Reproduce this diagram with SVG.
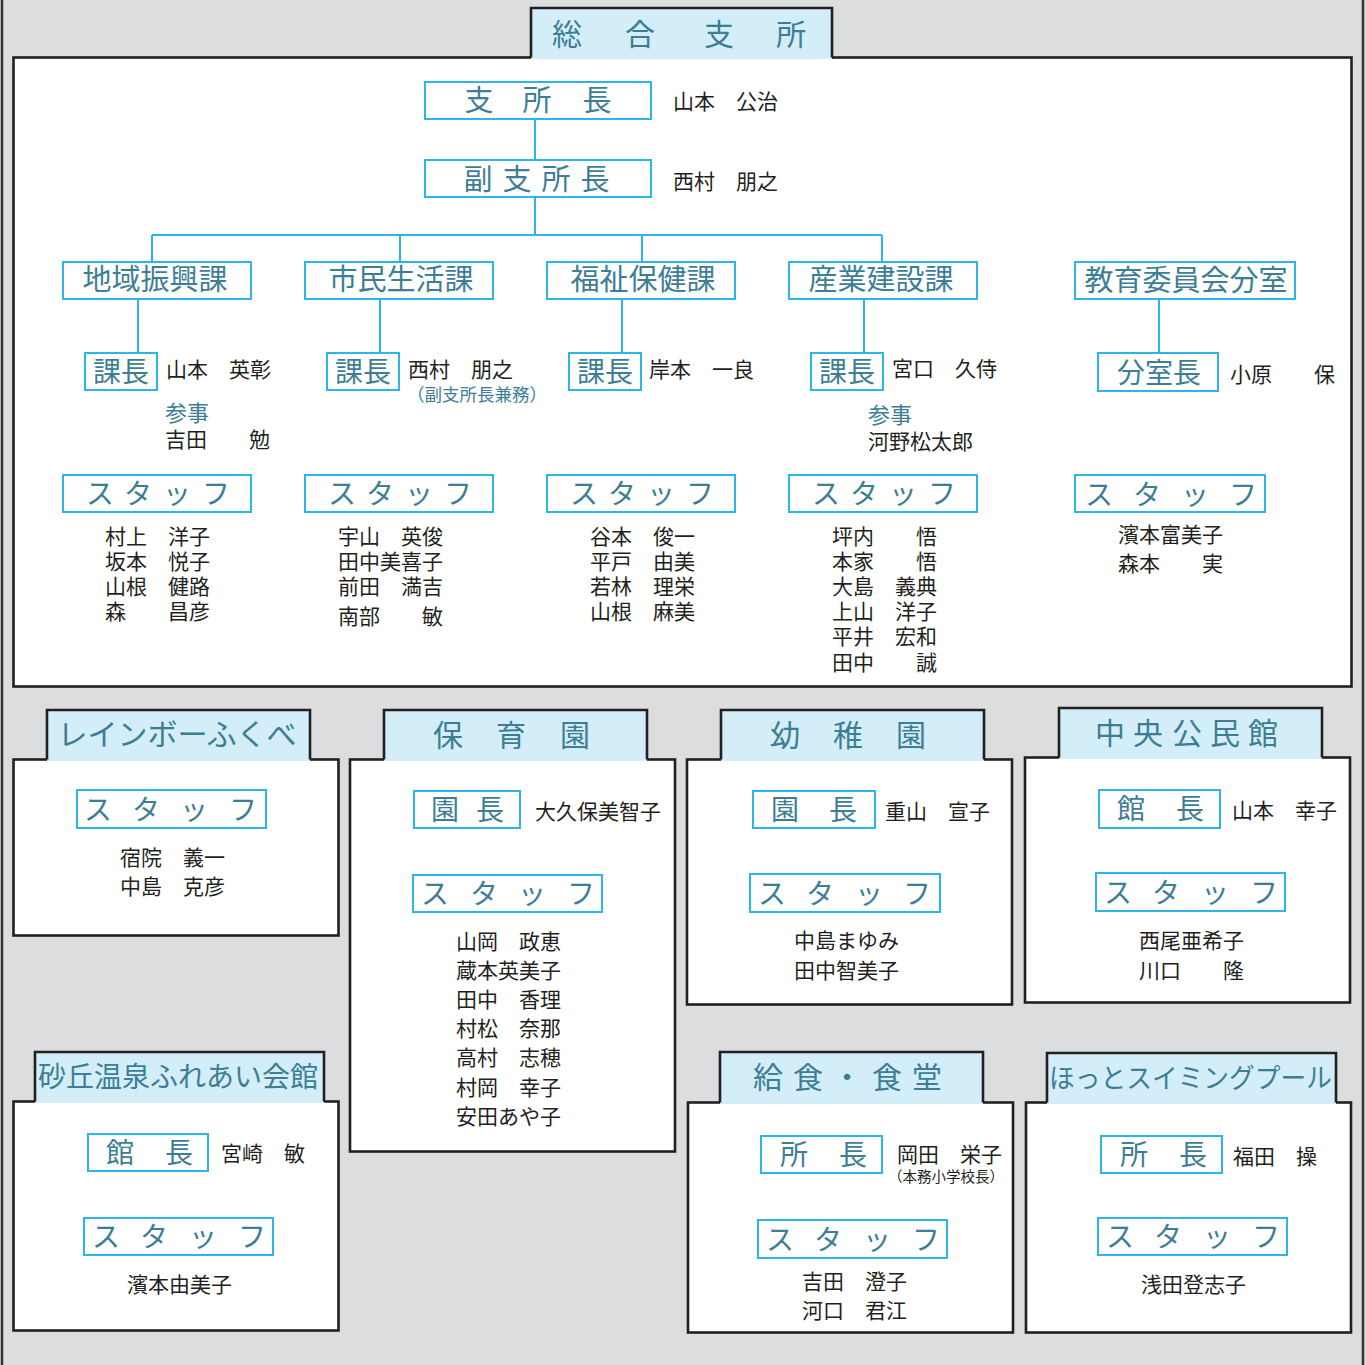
<svg xmlns="http://www.w3.org/2000/svg" width="1366" height="1365" viewBox="0 0 1366 1365">
<style>
.bg{fill:#dcdddf}
.frame{stroke:#333;stroke-width:2.5}
.panel{fill:#fff;stroke:#231f20;stroke-width:2.6}
.tabf{fill:#d3eef9}
.tabl{fill:none;stroke:#231f20;stroke-width:2.6}
.box{fill:#fff;stroke:#2cb5e9;stroke-width:2}
.con{fill:none;stroke:#2cb5e9;stroke-width:2}
text{font-family:"Noto Sans CJK JP","Noto Sans",sans-serif}
.h{fill:#3d7e94;font-size:29px}
.t{fill:#3d7e94;font-size:30px}
.lb{fill:#3d7e94;font-size:28px}
.s{fill:#3d7e94;font-size:22px}
.n{fill:#231f20;font-size:21px}
</style>
<rect class="bg" x="0" y="0" width="1366" height="1365"/>
<line class="frame" x1="2" y1="0" x2="2" y2="1365"/>
<line class="frame" x1="1363" y1="0" x2="1363" y2="1365"/>

<g id="main-panel">
<rect class="panel" x="13.5" y="57.5" width="1338" height="629"/>
<rect class="tabf" x="531" y="8" width="301" height="51"/>
<path class="tabl" d="M531,57.5 V8 H832 V57.5"/>
<text class="t" x="567 640 719 791" y="45" text-anchor="middle">総合支所</text>
</g>

<g id="connectors">
<path class="con" d="M535,119 V160 M535,197 V235 M152,235 H882 M152,235 V262 M400,235 V262 M642,235 V262 M882,235 V262"/>
<path class="con" d="M138,299 V353 M380,299 V353 M622,299 V353 M864,299 V353 M1159,299 V353"/>
</g>

<g id="shochou">
<rect class="box" x="425" y="82" width="226" height="37"/>
<text class="h" x="479 537 597" y="111" text-anchor="middle">支所長</text>
<text class="n" x="673" y="109">山本　公治</text>
</g>
<g id="fukushochou">
<rect class="box" x="425" y="160" width="226" height="37"/>
<text class="h" x="478 517 556 595" y="190" text-anchor="middle">副支所長</text>
<text class="n" x="673" y="189">西村　朋之</text>
</g>

<g id="chiiki">
<rect class="box" x="63" y="262" width="188" height="37"/>
<text class="h" x="155" y="290" text-anchor="middle">地域振興課</text>
<rect class="box" x="85" y="353" width="72" height="37"/>
<text class="lb" x="121" y="382" text-anchor="middle">課長</text>
<text class="n" x="166" y="377">山本　英彰</text>
<text class="s" x="165" y="421">参事</text>
<text class="n" x="165" y="447">吉田　　勉</text>
<rect class="box" x="63" y="475" width="188" height="37"/>
<text class="lb" x="100 138 177 216" y="504" text-anchor="middle">スタッフ</text>
<text class="n" x="105" y="544">村上　洋子</text>
<text class="n" x="105" y="569">坂本　悦子</text>
<text class="n" x="105" y="594">山根　健路</text>
<text class="n" x="105" y="619">森　　昌彦</text>
</g>

<g id="shimin">
<rect class="box" x="305" y="262" width="188" height="37"/>
<text class="h" x="401" y="290" text-anchor="middle">市民生活課</text>
<rect class="box" x="327" y="353" width="72" height="37"/>
<text class="lb" x="363" y="382" text-anchor="middle">課長</text>
<text class="n" x="408" y="377">西村　朋之</text>
<text class="s" x="477" y="401" text-anchor="middle" style="font-size:17.5px">（副支所長兼務）</text>
<rect class="box" x="305" y="475" width="188" height="37"/>
<text class="lb" x="342 380 419 458" y="504" text-anchor="middle">スタッフ</text>
<text class="n" x="338" y="544">宇山　英俊</text>
<text class="n" x="338" y="569">田中美喜子</text>
<text class="n" x="338" y="594">前田　満吉</text>
<text class="n" x="338" y="624">南部　　敏</text>
</g>

<g id="fukushi">
<rect class="box" x="547" y="262" width="188" height="37"/>
<text class="h" x="643" y="290" text-anchor="middle">福祉保健課</text>
<rect class="box" x="569" y="353" width="72" height="37"/>
<text class="lb" x="605" y="382" text-anchor="middle">課長</text>
<text class="n" x="649" y="377">岸本　一良</text>
<rect class="box" x="547" y="475" width="188" height="37"/>
<text class="lb" x="584 622 661 700" y="504" text-anchor="middle">スタッフ</text>
<text class="n" x="590" y="544">谷本　俊一</text>
<text class="n" x="590" y="569">平戸　由美</text>
<text class="n" x="590" y="594">若林　理栄</text>
<text class="n" x="590" y="619">山根　麻美</text>
</g>

<g id="sangyo">
<rect class="box" x="789" y="262" width="188" height="37"/>
<text class="h" x="881" y="290" text-anchor="middle">産業建設課</text>
<rect class="box" x="811" y="353" width="72" height="37"/>
<text class="lb" x="847" y="382" text-anchor="middle">課長</text>
<text class="n" x="892" y="376">宮口　久侍</text>
<text class="s" x="868" y="423">参事</text>
<text class="n" x="868" y="449">河野松太郎</text>
<rect class="box" x="789" y="475" width="188" height="37"/>
<text class="lb" x="826 864 903 942" y="504" text-anchor="middle">スタッフ</text>
<text class="n" x="832" y="544">坪内　　悟</text>
<text class="n" x="832" y="569">本家　　悟</text>
<text class="n" x="832" y="594">大島　義典</text>
<text class="n" x="832" y="619">上山　洋子</text>
<text class="n" x="832" y="644">平井　宏和</text>
<text class="n" x="832" y="670">田中　　誠</text>
</g>

<g id="kyoiku">
<rect class="box" x="1075" y="262" width="220" height="37"/>
<text class="h" x="1186" y="291" text-anchor="middle">教育委員会分室</text>
<rect class="box" x="1098" y="353" width="120" height="38"/>
<text class="lb" x="1159" y="383" text-anchor="middle">分室長</text>
<text class="n" x="1230" y="382">小原　　保</text>
<rect class="box" x="1075" y="475" width="190" height="37"/>
<text class="lb" x="1099 1147 1195 1243" y="505" text-anchor="middle">スタッフ</text>
<text class="n" x="1118" y="542">濱本富美子</text>
<text class="n" x="1118" y="571">森本　　実</text>
</g>

<g id="rainbow">
<rect class="panel" x="13.5" y="759.5" width="325" height="176"/>
<rect class="tabf" x="47" y="710" width="263" height="51"/>
<path class="tabl" d="M47,759.5 V710 H310 V759.5"/>
<text class="t" x="177" y="745" text-anchor="middle">レインボーふくべ</text>
<rect class="box" x="77" y="790" width="189" height="38"/>
<text class="lb" x="98 146 194 243" y="820" text-anchor="middle">スタッフ</text>
<text class="n" x="120" y="865">宿院　義一</text>
<text class="n" x="120" y="894">中島　克彦</text>
</g>

<g id="hoikuen">
<rect class="panel" x="350" y="759.5" width="325" height="392"/>
<rect class="tabf" x="384" y="710" width="263" height="51"/>
<path class="tabl" d="M384,759.5 V710 H647 V759.5"/>
<text class="t" x="448 511 575" y="746" text-anchor="middle">保育園</text>
<rect class="box" x="414" y="791" width="106" height="37"/>
<text class="lb" x="445 490" y="820" text-anchor="middle">園長</text>
<text class="n" x="535" y="819">大久保美智子</text>
<rect class="box" x="413" y="875" width="189" height="37"/>
<text class="lb" x="435 484 532 581" y="904" text-anchor="middle">スタッフ</text>
<text class="n" x="456" y="949">山岡　政恵</text>
<text class="n" x="456" y="978">蔵本英美子</text>
<text class="n" x="456" y="1007">田中　香理</text>
<text class="n" x="456" y="1036">村松　奈那</text>
<text class="n" x="456" y="1065">高村　志穂</text>
<text class="n" x="456" y="1095">村岡　幸子</text>
<text class="n" x="456" y="1124">安田あや子</text>
</g>

<g id="youchien">
<rect class="panel" x="687" y="759.5" width="325" height="245"/>
<rect class="tabf" x="721" y="710" width="263" height="51"/>
<path class="tabl" d="M721,759.5 V710 H984 V759.5"/>
<text class="t" x="785 848 911" y="746" text-anchor="middle">幼稚園</text>
<rect class="box" x="753" y="791" width="122" height="37"/>
<text class="lb" x="785 843" y="820" text-anchor="middle">園長</text>
<text class="n" x="885" y="819">重山　宣子</text>
<rect class="box" x="750" y="874" width="190" height="38"/>
<text class="lb" x="772 820 869 917" y="904" text-anchor="middle">スタッフ</text>
<text class="n" x="794" y="948">中島まゆみ</text>
<text class="n" x="794" y="978">田中智美子</text>
</g>

<g id="chuo-kominkan">
<rect class="panel" x="1025" y="757.5" width="325" height="245"/>
<rect class="tabf" x="1059" y="708" width="263" height="51"/>
<path class="tabl" d="M1059,757.5 V708 H1322 V757.5"/>
<text class="t" x="1110 1148 1187 1225 1263" y="744" text-anchor="middle">中央公民館</text>
<rect class="box" x="1099" y="790" width="121" height="38"/>
<text class="lb" x="1131 1190" y="819" text-anchor="middle">館長</text>
<text class="n" x="1232" y="818">山本　幸子</text>
<rect class="box" x="1096" y="873" width="189" height="38"/>
<text class="lb" x="1118 1166 1215 1264" y="903" text-anchor="middle">スタッフ</text>
<text class="n" x="1139" y="948">西尾亜希子</text>
<text class="n" x="1139" y="978">川口　　隆</text>
</g>

<g id="sakyu-onsen">
<rect class="panel" x="13.5" y="1101.5" width="325" height="229"/>
<rect class="tabf" x="35" y="1052" width="289" height="51"/>
<path class="tabl" d="M35,1101.5 V1052 H324 V1101.5"/>
<text class="t" x="38" y="1087" textLength="280" lengthAdjust="spacingAndGlyphs" style="font-size:28.5px">砂丘温泉ふれあい会館</text>
<rect class="box" x="88" y="1134" width="120" height="37"/>
<text class="lb" x="120 179" y="1163" text-anchor="middle">館長</text>
<text class="n" x="221" y="1161">宮崎　敏</text>
<rect class="box" x="84" y="1218" width="189" height="37"/>
<text class="lb" x="106 154 203 252" y="1247" text-anchor="middle">スタッフ</text>
<text class="n" x="127" y="1292">濱本由美子</text>
</g>

<g id="kyushoku">
<rect class="panel" x="688" y="1102.5" width="325" height="230"/>
<rect class="tabf" x="720" y="1052" width="263" height="52"/>
<path class="tabl" d="M720,1102.5 V1052 H983 V1102.5"/>
<text class="t" x="768 808 847 887 927" y="1088" text-anchor="middle">給食・食堂</text>
<rect class="box" x="761" y="1136" width="121" height="37"/>
<text class="lb" x="794 853" y="1165" text-anchor="middle">所長</text>
<text class="n" x="897" y="1162">岡田　栄子</text>
<text class="n" x="946" y="1182" text-anchor="middle" style="font-size:14.5px">（本務小学校長）</text>
<rect class="box" x="758" y="1220" width="189" height="38"/>
<text class="lb" x="780 828 877 926" y="1250" text-anchor="middle">スタッフ</text>
<text class="n" x="802" y="1289">吉田　澄子</text>
<text class="n" x="802" y="1318">河口　君江</text>
</g>

<g id="hot-swimming">
<rect class="panel" x="1026" y="1102.5" width="325" height="230"/>
<rect class="tabf" x="1047" y="1053" width="289" height="51"/>
<path class="tabl" d="M1047,1102.5 V1053 H1336 V1102.5"/>
<text class="t" x="1049" y="1088" textLength="283" lengthAdjust="spacingAndGlyphs" style="font-size:27px">ほっとスイミングプール</text>
<rect class="box" x="1101" y="1136" width="121" height="37"/>
<text class="lb" x="1134 1193" y="1165" text-anchor="middle">所長</text>
<text class="n" x="1233" y="1164">福田　操</text>
<rect class="box" x="1098" y="1218" width="189" height="37"/>
<text class="lb" x="1120 1168 1217 1266" y="1247" text-anchor="middle">スタッフ</text>
<text class="n" x="1141" y="1292">浅田登志子</text>
</g>
</svg>
